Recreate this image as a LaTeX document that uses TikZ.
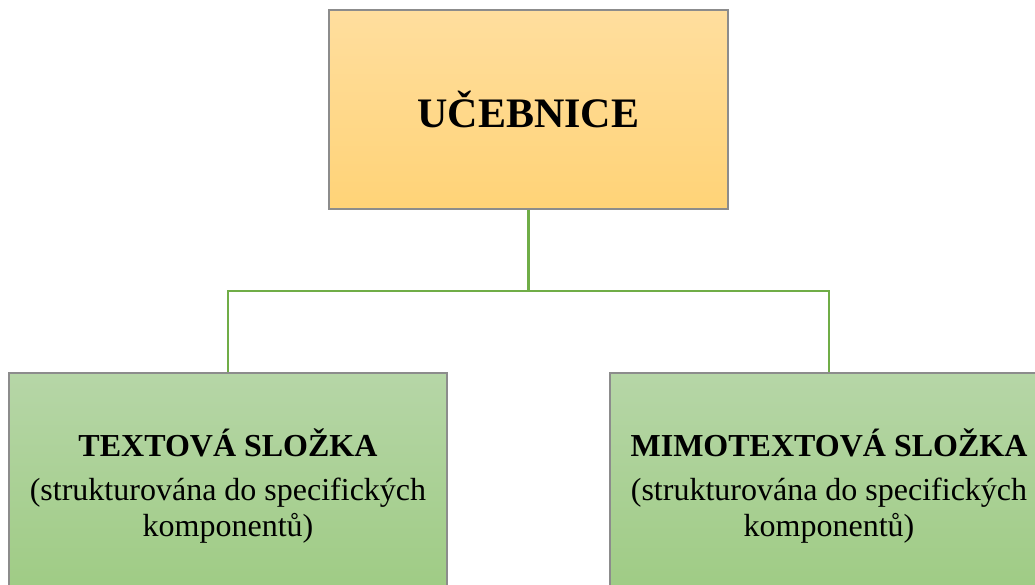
\documentclass[tikz,border=0pt]{standalone}
\usepackage{fontspec}
\setmainfont{Liberation Serif}
\usepackage{xcolor}
\usepackage{tikz}
\usetikzlibrary{positioning, calc}

\definecolor{orangetop}{HTML}{FFDE9E}
\definecolor{orangebot}{HTML}{FFD377}
\definecolor{greentop}{HTML}{B6D6A7}
\definecolor{greenbot}{HTML}{9ECB83}
\definecolor{linkgreen}{HTML}{70AD47}
\definecolor{boxgray}{HTML}{8C8C8C}

\begin{document}
\begin{tikzpicture}[
  x=0.75pt, y=-0.75pt,
  box/.style={rectangle, draw=boxgray, line width=0.8pt, align=center, inner sep=4pt},
  rootbox/.style={box, top color=orangetop, bottom color=orangebot, minimum width=299.25pt, minimum height=149.25pt, font=\fontsize{31.5}{36}\selectfont\bfseries},
  partbox/.style={box, top color=greentop, bottom color=greenbot, minimum width=328.5pt, minimum height=169.5pt, font=\fontsize{24}{27}\selectfont},
  link/.style={draw=linkgreen, line width=1.9pt}
]
% Page size of the reference; the lower boxes run past the bottom and right edges.
\clip (0,0) rectangle (1035,585);

\node[rootbox] (book) at (528.5,109.5) {UČEBNICE};
\node[partbox] (text) at (228,486) {\textbf{TEXTOVÁ SLOŽKA}\\[6pt](strukturována do specifických\\komponentů)};
\node[partbox] (nontext) at (829,486) {\textbf{MIMOTEXTOVÁ SLOŽKA}\\[6pt](strukturována do specifických\\komponentů)};

% Junction below the root: stem, then branches to both parts.
\coordinate (hub) at (528.5,291);
\draw[link] (book.south) -- (hub);
\draw[link] (hub) -| (text.north);
\draw[link] (hub) -| (nontext.north);

\end{tikzpicture}
\end{document}
